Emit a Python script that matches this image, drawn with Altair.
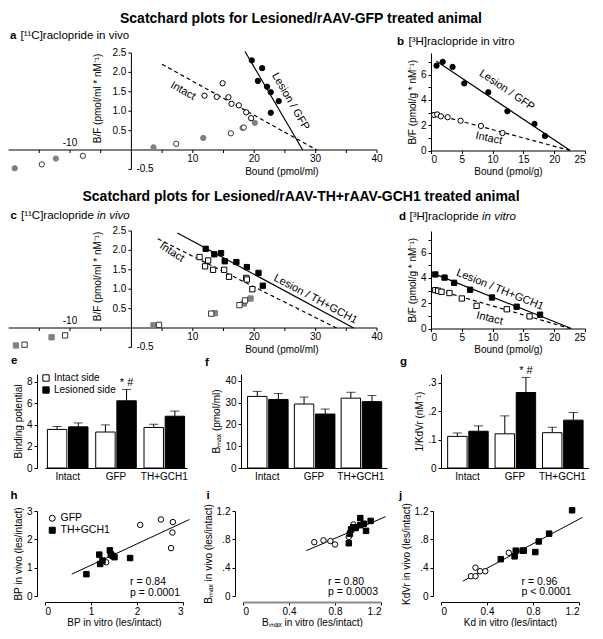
import altair as alt
import pandas as pd

FONT = "Liberation Sans"

# ---------------- data ----------------
# (a) Lesioned/rAAV-GFP animal, [11C]raclopride in vivo (Bound pmol/ml, B/F)
a_les_x = [19.6, 21.3, 20.6, 22.1, 22.7, 24.0, 22.7]
a_les_y = [2.31, 2.11, 1.78, 1.63, 1.49, 1.26, 0.96]
a_int_x = [14.85, 11.9, 13.9, 15.8, 16.3, 17.5, 18.7, 19.5]
a_int_y = [1.72, 1.40, 1.37, 1.36, 1.19, 1.15, 0.97, 0.82]
a_glow_x = [3.6, 11.7, 18.1, 20.1, -19.0, -12.3]
a_glow_y = [0.07, 0.31, 0.57, 0.70, -0.47, -0.22]
a_olow_x = [7.3, 16.2, 18.3, -14.6, -7.9]
a_olow_y = [0.16, 0.43, 0.58, -0.37, -0.15]
a_fit_les = ([18.5, 27.9], [2.54, 0.0])
a_fit_int = ([5.0, 30.2], [2.21, 0.0])

# (b) GFP animal, [3H]raclopride in vitro
b_les_x = [0.9, 1.9, 3.5, 5.4, 9.3, 12.4, 16.8, 18.5]
b_les_y = [6.7, 7.0, 6.6, 5.3, 4.6, 3.1, 2.1, 1.15]
b_int_x = [0.5, 1.0, 1.6, 2.7, 4.8, 8.1, 11.6]
b_int_y = [2.81, 2.85, 2.70, 2.63, 2.35, 1.94, 1.38]
b_fit_les = ([0.9, 22.6], [7.05, 0.0])
b_fit_int = ([0.0, 22.6], [2.95, 0.0])

# (c) TH+GCH1 animal, [11C]raclopride in vivo
c_les_x = [12.1, 13.5, 14.6, 15.2, 17.1, 18.8, 20.7, 21.4]
c_les_y = [2.04, 1.90, 1.93, 1.72, 1.70, 1.57, 1.42, 1.09]
c_int_x = [11.1, 12.5, 12.0, 13.3, 15.1, 15.9, 18.7, 18.8, 19.7]
c_int_y = [1.83, 1.74, 1.59, 1.50, 1.50, 1.32, 1.29, 1.25, 1.00]
c_glow_x = [3.6, 13.6, 18.3, 19.4, -18.8, -13.0]
c_glow_y = [0.07, 0.38, 0.63, 0.76, -0.45, -0.24]
c_olow_x = [4.5, 13.0, 17.6, 18.5, -17.4, -10.8]
c_olow_y = [0.08, 0.37, 0.59, 0.71, -0.43, -0.19]
c_fit_les = ([7.5, 36.2], [2.45, 0.0])
c_fit_int = ([4.3, 33.4], [2.30, 0.0])

# (d) TH+GCH1 animal, [3H]raclopride in vitro
d_les_x = [0.7, 2.2, 3.75, 6.35, 9.9, 13.9, 17.7]
d_les_y = [4.27, 4.02, 3.61, 3.06, 2.45, 1.72, 1.09]
d_int_x = [0.7, 1.15, 1.7, 3.0, 5.0, 7.4, 12.3, 16.0]
d_int_y = [3.03, 2.98, 2.90, 2.80, 2.37, 1.79, 1.52, 0.96]
d_fit_les = ([0.25, 22.8], [4.37, 0.0])
d_fit_int = ([0.25, 22.6], [3.16, 0.0])

# in-vivo axis ticks (panels a, c)
vivo_xticks = [-15, -10, -5, 5, 10, 15, 20, 25, 30, 35, 40]
vivo_xlabels = [10, 20, 30, 40]
vivo_yticks = [-0.5, 0.5, 1.0, 1.5, 2.0, 2.5]
vivo_ylabels = [0.5, 1.0, 1.5, 2.0, 2.5]

# (e)-(g) bar charts
groups = ["Intact", "GFP", "TH+GCH1"]
sides = ["Intact side", "Lesioned side"]
e_int = [3.57, 3.33, 3.75]
e_int_top = [3.84, 3.99, 4.05]
e_les = [3.81, 6.22, 4.79]
e_les_top = [4.17, 7.26, 5.27]
f_int = [32.9, 29.4, 32.1]
f_int_top = [35.2, 32.6, 34.8]
f_les = [31.5, 24.8, 30.5]
f_les_top = [34.2, 27.1, 33.3]
g_int = [0.111, 0.120, 0.124]
g_int_top = [0.123, 0.183, 0.143]
g_les = [0.129, 0.265, 0.168]
g_les_top = [0.148, 0.318, 0.195]

# (h)-(j) correlations (les/intact)
h_gfp_x = [2.07, 2.52, 2.78, 2.77, 2.74, 1.33]
h_gfp_y = [2.51, 2.70, 2.61, 2.24, 1.69, 1.19]
h_th_x = [0.90, 1.18, 1.20, 1.25, 1.41, 1.43, 1.47, 1.51, 1.85]
h_th_y = [0.77, 1.46, 1.13, 1.25, 1.61, 1.47, 1.42, 1.37, 1.34]
h_fit = ([0.58, 3.14], [0.77, 2.70])

i_gfp_x = [0.62, 0.70, 0.76, 0.80, 0.92, 0.96]
i_gfp_y = [0.76, 0.785, 0.776, 0.727, 0.834, 1.01]
i_th_x = [0.92, 0.93, 0.94, 0.96, 0.98, 1.02, 1.02, 1.05, 1.07, 1.11]
i_th_y = [0.745, 0.88, 0.94, 0.97, 0.96, 1.10, 1.00, 1.02, 0.92, 1.06]
i_fit = ([0.55, 1.24], [0.64, 1.12])

j_gfp_x = [0.26, 0.30, 0.30, 0.34, 0.385, 0.59]
j_gfp_y = [0.28, 0.28, 0.40, 0.35, 0.35, 0.61]
j_th_x = [0.52, 0.64, 0.65, 0.71, 0.72, 0.82, 0.85, 0.94, 1.14]
j_th_y = [0.52, 0.56, 0.64, 0.64, 0.64, 0.62, 0.77, 0.88, 1.21]
j_fit = ([0.19, 1.23], [0.21, 1.11])

TITLE1 = "Scatchard plots for Lesioned/rAAV-GFP treated animal"
TITLE2 = "Scatchard plots for Lesioned/rAAV-TH+rAAV-GCH1 treated animal"
CORR_GROUPS = ["GFP", "TH+GCH1"]


# ---------------- helpers ----------------
def pts(xs, ys, fill, stroke):
    return pd.DataFrame({"x": xs, "y": ys, "fill": [fill] * len(xs), "stroke": [stroke] * len(xs)})


def point_layer(df, X, Y, shape, size=28):
    return alt.Chart(df).mark_point(shape=shape, size=size, filled=True, strokeWidth=1, opacity=1).encode(
        x=X, y=Y, fill=alt.Fill("fill:N", scale=None), stroke=alt.Stroke("stroke:N", scale=None))


def line_layer(fit, X, Y, dash=None, width=1.2):
    kw = dict(color="black", strokeWidth=width)
    if dash:
        kw["strokeDash"] = dash
    return alt.Chart(pd.DataFrame({"x": fit[0], "y": fit[1]})).mark_line(**kw).encode(x=X, y=Y)


def note_layer(rows, X, Y, size=11, align="center", baseline="middle", dx=0, dy=0):
    df = pd.DataFrame(rows, columns=["x", "y", "t", "ang"])
    return alt.Chart(df).mark_text(font=FONT, fontSize=size, align=align, baseline=baseline,
                                   dx=dx, dy=dy, color="black").encode(
        x=X, y=Y, text="t:N", angle=alt.Angle("ang:Q", scale=None))


def tag(pieces):
    out = []
    for p in pieces:
        t, px, py, w, st, sz = p[:6]
        al = p[6] if len(p) > 6 else "left"
        out.append(alt.Chart(pd.DataFrame({"t": [t]})).mark_text(
            font=FONT, fontSize=sz, fontWeight=w, fontStyle=st, align=al,
            baseline="middle", color="black").encode(text="t:N", x=alt.value(px), y=alt.value(py)))
    return out


PPX_VIVO = 6.14   # px per pmol/ml
PPY_VIVO = 38.8   # px per B/F unit


def vivo_panel(W, les, intact, glow, olow, fit_les, fit_int, shape, labels, pieces):
    xdom = [40.0 - W / PPX_VIVO, 40.0]
    ydom = [-0.5, 2.5]
    H = PPY_VIVO * (ydom[1] - ydom[0])
    X = alt.X("x:Q", scale=alt.Scale(domain=xdom, nice=False, zero=False), axis=None)
    Y = alt.Y("y:Q", scale=alt.Scale(domain=ydom, nice=False, zero=False), axis=None)
    xline = alt.Chart(pd.DataFrame({"x": [-20.0], "x2": [40.0], "y": [0.0]})).mark_rule(
        color="black", strokeWidth=1).encode(x=X, x2="x2:Q", y=Y)
    yline = alt.Chart(pd.DataFrame({"x": [0.0], "y": [ydom[0]], "y2": [ydom[1]]})).mark_rule(
        color="black", strokeWidth=1).encode(x=X, y=Y, y2="y2:Q")
    xt = alt.Chart(pd.DataFrame({"x": vivo_xticks, "y": [0.0] * len(vivo_xticks),
                                 "y2": [-3.0 / PPY_VIVO] * len(vivo_xticks)})).mark_rule(
        color="black").encode(x=X, y=Y, y2="y2:Q")
    yt = alt.Chart(pd.DataFrame({"y": vivo_yticks, "x": [0.0] * len(vivo_yticks),
                                 "x2": [-3.0 / PPX_VIVO] * len(vivo_yticks)})).mark_rule(
        color="black").encode(x=X, x2="x2:Q", y=Y)
    xl = note_layer([[v, 0.0, str(v), 0] for v in vivo_xlabels], X, Y, size=10, baseline="top", dy=4)
    yl = note_layer([[0.0, v, "%.1f" % v, 0] for v in vivo_ylabels], X, Y, size=10, align="right", dx=-5)
    xtitle = note_layer([[24.5, -22.0 / PPY_VIVO, "Bound (pmol/ml)", 0]], X, Y, size=10)
    ytitle = note_layer([[-33.0 / PPX_VIVO, 1.33, "B/F (pmol/ml * nM\u207b\u00b9)", 270]], X, Y, size=10)
    layers = [
        xline, yline, xt, yt, xl, yl, xtitle, ytitle,
        note_layer([[-10, 0.0, "-10", 0]], X, Y, size=10, baseline="bottom", dy=-2),
        note_layer([[0.0, -0.5, "-0.5", 0]], X, Y, size=10, align="left", dx=5),
        line_layer(fit_int, X, Y, dash=[4, 3]),
        line_layer(fit_les, X, Y),
        point_layer(pts(glow[0], glow[1], "#808080", "#808080"), X, Y, shape),
        point_layer(pts(olow[0], olow[1], "white", "#333333"), X, Y, shape),
        point_layer(pts(intact[0], intact[1], "white", "black"), X, Y, shape),
        point_layer(pts(les[0], les[1], "black", "black"), X, Y, shape),
        note_layer(labels, X, Y),
    ] + tag(pieces)
    return alt.layer(*layers).properties(width=W, height=H)


def vitro_panel(W, H, les, intact, fit_les, fit_int, shape, labels, pieces):
    X = alt.X("x:Q", scale=alt.Scale(domain=[0, 25], nice=False, zero=False),
              axis=alt.Axis(title="Bound (pmol/g)", values=[0, 5, 10, 15, 20, 25], tickSize=3,
                            labelPadding=1, titlePadding=2))
    Y = alt.Y("y:Q", scale=alt.Scale(domain=[0, 7.7], nice=False, zero=False),
              axis=alt.Axis(title="B/F (pmol/g * nM\u207b\u00b9)", values=[0, 1, 2, 3, 4, 5, 6, 7],
                            labelExpr="datum.value % 2 == 0 ? datum.label : ''", tickSize=3,
                            titlePadding=3))
    layers = [
        line_layer(fit_int, X, Y, dash=[4, 3]),
        line_layer(fit_les, X, Y),
        point_layer(pts(intact[0], intact[1], "white", "black"), X, Y, shape),
        point_layer(pts(les[0], les[1], "black", "black"), X, Y, shape),
        note_layer(labels, X, Y),
    ] + tag(pieces)
    return alt.layer(*layers).properties(width=W, height=H)


def bar_panel(W, H, vi, ti, vl, tl, ymax, yvals, ylab_expr, ytitle, star, legend, pieces, yoff=0, pad_out=0.14):
    df = pd.DataFrame({
        "grp": groups * 2,
        "side": [sides[0]] * 3 + [sides[1]] * 3,
        "v": vi + vl,
        "e": ti + tl,
        "col": ["white"] * 3 + ["black"] * 3,
    })
    X = alt.X("grp:N", sort=groups, scale=alt.Scale(paddingInner=0.16, paddingOuter=pad_out),
              axis=alt.Axis(title=None, labelAngle=0, ticks=False, labelPadding=3))
    XO = alt.XOffset("side:N", sort=sides, scale=alt.Scale(paddingInner=0.08))
    yscale = alt.Scale(domain=[0, ymax], nice=False, zero=True)
    yaxis = alt.Axis(title=ytitle, values=yvals, labelExpr=ylab_expr, tickSize=3, titlePadding=3,
                     offset=yoff)
    if legend:
        fill = alt.Fill("side:N", scale=alt.Scale(domain=sides, range=["white", "black"]),
                        legend=alt.Legend(title=None, orient="none", legendX=-4, legendY=-1,
                                          symbolType="square",
                                          symbolSize=40, symbolStrokeColor="black", symbolStrokeWidth=1,
                                          labelFontSize=10, labelFont=FONT, rowPadding=0, padding=0,
                                          labelOffset=3))
    else:
        fill = alt.Fill("col:N", scale=None)
    bars = alt.Chart(df).mark_bar(stroke="black", strokeWidth=1).encode(
        x=X, xOffset=XO, y=alt.Y("v:Q", scale=yscale, axis=yaxis), fill=fill)
    err = alt.Chart(df).mark_rule(color="black", strokeWidth=1).encode(
        x=X, xOffset=XO, y=alt.Y("v:Q", scale=yscale, axis=yaxis), y2="e:Q")
    cap = alt.Chart(df).mark_tick(color="black", thickness=1, size=9).encode(
        x=X, xOffset=XO, y=alt.Y("e:Q", scale=yscale, axis=yaxis))
    layers = [bars, err, cap]
    if star is not None:
        sdf = pd.DataFrame({"grp": ["GFP"], "side": [sides[1]], "v": [star], "t": ["* #"]})
        layers.append(alt.Chart(sdf).mark_text(font=FONT, fontSize=11, baseline="bottom", color="black").encode(
            x=X, xOffset=XO, y=alt.Y("v:Q", scale=yscale, axis=yaxis), text="t:N"))
    return alt.layer(*layers + tag(pieces)).properties(width=W, height=H)


def corr_panel(W, H, dmax, vals, lab_expr_x, lab_expr_y, xtitle, ytitle, gfp, th, fit, txt_xy, rtxt, ptxt,
               legend, pieces, xdomain_color="black", xdomain_width=1):
    X = alt.X("x:Q", scale=alt.Scale(domain=[0, dmax], nice=False, zero=False),
              axis=alt.Axis(title=xtitle, values=vals, labelExpr=lab_expr_x, offset=6, tickSize=3,
                            labelPadding=1, titlePadding=1, domainColor=xdomain_color,
                            domainWidth=xdomain_width))
    Y = alt.Y("y:Q", scale=alt.Scale(domain=[0, dmax], nice=False, zero=False),
              axis=alt.Axis(title=ytitle, values=vals, labelExpr=lab_expr_y, offset=8, tickSize=3,
                            titlePadding=3))
    df = pd.DataFrame({"x": gfp[0] + th[0], "y": gfp[1] + th[1],
                       "grp": ["GFP"] * len(gfp[0]) + ["TH+GCH1"] * len(th[0])})
    if legend:
        leg = alt.Legend(title=None, orient="top-left", offset=2, symbolSize=36,
                         symbolStrokeWidth=1, labelFontSize=10.5, labelFont=FONT, rowPadding=1, padding=0,
                         labelOffset=3)
    else:
        leg = None
    shp = alt.Shape("grp:N", scale=alt.Scale(domain=CORR_GROUPS, range=["circle", "square"]), legend=leg)
    fil = alt.Fill("grp:N", scale=alt.Scale(domain=CORR_GROUPS, range=["white", "black"]), legend=leg)
    stk = alt.Stroke("grp:N", scale=alt.Scale(domain=CORR_GROUPS, range=["black", "black"]), legend=leg)
    points = alt.Chart(df).mark_point(filled=True, size=30, strokeWidth=1, opacity=1).encode(
        x=X, y=Y, shape=shp, fill=fil, stroke=stk)
    ln = line_layer(fit, X, Y, width=1)
    stats = note_layer([[txt_xy[0], txt_xy[1], rtxt, 0], [txt_xy[0], txt_xy[2], ptxt, 0]], X, Y,
                       size=10.5, align="left")
    return alt.layer(ln, points, stats, *tag(pieces)).properties(width=W, height=H)


# ---------------- panels ----------------
WA = 332
WB, HB = 154, 97.5
TS = 11.5   # panel-tag font size

pa = vivo_panel(WA, (a_les_x, a_les_y), (a_int_x, a_int_y), (a_glow_x, a_glow_y),
                (a_olow_x, a_olow_y), a_fit_les, a_fit_int, "circle",
                [[8.4, 1.52, "Intact", 29], [25.9, 1.25, "Lesion / GFP", 60]],
                [(TITLE1, 256, -34, "bold", "normal", 14, "center"),
                 ("a", -35, -17, "bold", "normal", TS),
                 ("[\u00b9\u00b9C]raclopride in vivo", -24.5, -17, "normal", "normal", TS)])

pb = vitro_panel(WB, HB, (b_les_x, b_les_y), (b_int_x, b_int_y), b_fit_les, b_fit_int, "circle",
                 [[12.3, 4.75, "Lesion / GFP", 34], [9.4, 0.95, "Intact", 12]],
                 [("b", -34, -11.5, "bold", "normal", TS),
                  ("[\u00b3H]raclopride in vitro", -22.5, -11.5, "normal", "normal", TS)])

pc = vivo_panel(WA, (c_les_x, c_les_y), (c_int_x, c_int_y), (c_glow_x, c_glow_y),
                (c_olow_x, c_olow_y), c_fit_les, c_fit_int, "square",
                [[6.6, 1.95, "Intact", 33], [30.0, 0.74, "Lesion / TH+GCH1", 28]],
                [(TITLE2, 256, -34, "bold", "normal", 14, "center"),
                 ("c", -34.5, -15, "bold", "normal", TS),
                 ("[\u00b9\u00b9C]raclopride", -24, -15, "normal", "normal", TS),
                 ("in vivo", 52, -15, "normal", "italic", TS)])

pd_ = vitro_panel(WB, HB, (d_les_x, d_les_y), (d_int_x, d_int_y), d_fit_les, d_fit_int, "square",
                  [[11.2, 3.05, "Lesion / TH+GCH1", 22], [9.5, 0.79, "Intact", 14]],
                  [("d", -32, -14.5, "bold", "normal", TS),
                   ("[\u00b3H]raclopride", -21.5, -14.5, "normal", "normal", TS),
                   ("in vitro", 51, -14.5, "normal", "italic", TS)])

pe = bar_panel(142, 94, e_int, e_int_top, e_les, e_les_top, 8.7, [0, 2, 4, 6, 8],
               "datum.label", "Binding potential", 7.45, True,
               [("e", -34, -13, "bold", "normal", TS)], yoff=8, pad_out=0.05)
pf = bar_panel(146, 94, f_int, f_int_top, f_les, f_les_top, 43.2, [0, 10, 20, 30, 40],
               "datum.label", "B\u2098\u2090\u2093 (pmol/ml)", None, False,
               [("f", -36, -11, "bold", "normal", TS)])
pg = bar_panel(148, 94, g_int, g_int_top, g_les, g_les_top, 0.33, [0, 0.1, 0.2, 0.3],
               "datum.value == 0 ? '0' : substring(format(datum.value, '.1f'), 1)",
               "1/KdVr (nM\u207b\u00b9)", 0.322, False,
               [("g", -41, -12, "bold", "normal", TS)])

frac = "datum.value == 0 ? '0' : (datum.value < 1 ? substring(format(datum.value, '.1f'), 1) : format(datum.value, '.1f'))"
dec = "datum.value == 0 ? '0' : format(datum.value, '.1f')"

HC = 85
ph = corr_panel(138, HC, 3, [0, 1, 2, 3], "datum.label", "datum.label",
                "BP in vitro (les/intact)", "BP in vivo (les/intact)",
                (h_gfp_x, h_gfp_y), (h_th_x, h_th_y), h_fit, (1.85, 0.50, 0.12),
                "r = 0.84", "p = 0.0001", True, [("h", -34.5, -15.5, "bold", "normal", TS)])
pi = corr_panel(138, HC, 1.2, [0, 0.4, 0.8, 1.2], dec, frac,
                "B\u2098\u2090\u2093 in vitro (les/intact)", "B\u2098\u2090\u2093 in vivo (les/intact)",
                (i_gfp_x, i_gfp_y), (i_th_x, i_th_y), i_fit, (0.74, 0.20, 0.05),
                "r = 0.80", "p = 0.0003", False, [("i", -36.5, -15.5, "bold", "normal", TS)],
                xdomain_color="#8a8a8a", xdomain_width=2)
pj = corr_panel(138, HC, 1.2, [0, 0.4, 0.8, 1.2], dec, frac,
                "Kd in vitro (les/intact)", "KdVr in vivo (les/intact)",
                (j_gfp_x, j_gfp_y), (j_th_x, j_th_y), j_fit, (0.70, 0.20, 0.05),
                "r = 0.96", "p < 0.0001", False, [("j", -42, -15.5, "bold", "normal", TS)])

row1 = alt.hconcat(pa, pb, spacing=54, bounds="flush")
row2 = alt.hconcat(pc, pd_, spacing=54, bounds="flush")
row3 = alt.hconcat(pe, pf, pg, spacing=54, bounds="flush").resolve_scale(
    fill="independent").resolve_legend(fill="independent")
row4 = alt.hconcat(ph, pi, pj, spacing=60, bounds="flush").resolve_scale(
    fill="independent", shape="independent", stroke="independent").resolve_legend(
    fill="independent", shape="independent", stroke="independent")

top = alt.vconcat(row1, row2, spacing=13)
mid = alt.vconcat(top, row3, spacing=0).resolve_scale(fill="independent").resolve_legend(fill="independent")
chart = alt.vconcat(mid, row4, spacing=8).resolve_scale(
    fill="independent", shape="independent", stroke="independent").resolve_legend(
    fill="independent", shape="independent", stroke="independent").properties(
    padding={"left": 0, "top": 4, "right": 0, "bottom": 0}).configure(
    font=FONT).configure_view(stroke=None).configure_axis(
    labelFont=FONT, titleFont=FONT, labelFontSize=10, titleFontSize=10, titleFontWeight="normal",
    labelColor="black", titleColor="black", domainColor="black", tickColor="black", grid=False
).configure_title(font=FONT, color="black")

chart.save("out.html", embed_options={"renderer": "svg", "actions": False})
